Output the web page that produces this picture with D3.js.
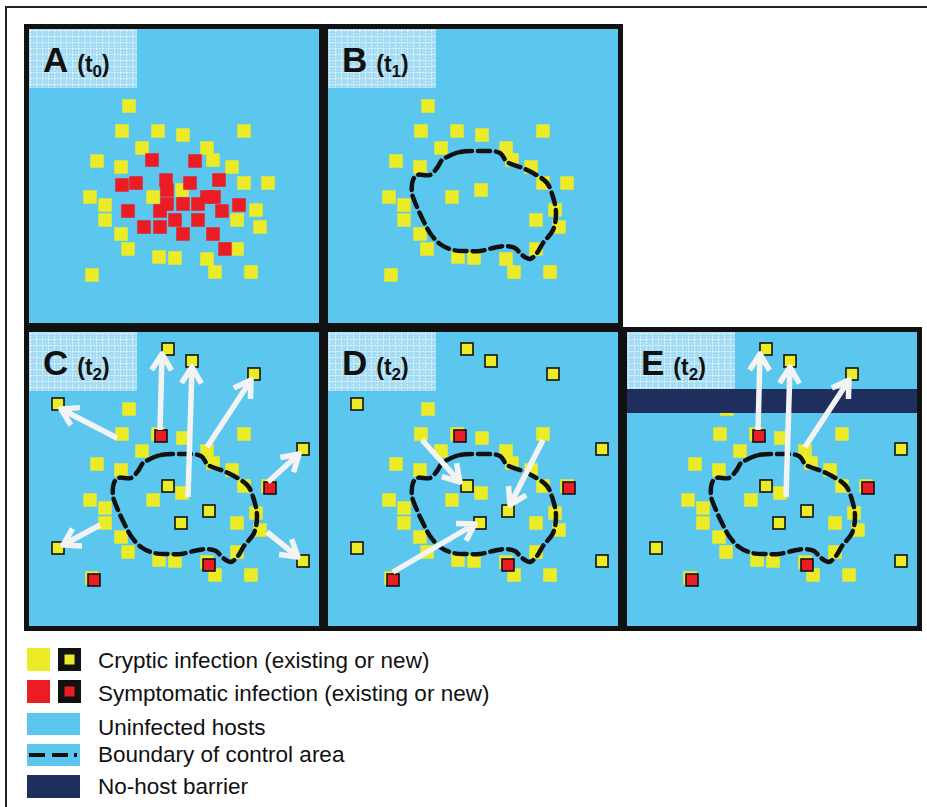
<!DOCTYPE html>
<html>
<head>
<meta charset="utf-8">
<script src="https://cdn.jsdelivr.net/npm/d3@7"></script>
<style>
  body { margin: 0; background: #fff; }
  text { font-family: "Liberation Sans", Arial, sans-serif; }
</style>
</head>
<body>
<div id="chart"></div>
<script>
// field coordinates inside one panel (0..300)
const cryptic = [
  [105,82],[98,107],[134,107],[159,111],[220,107],[118,124],[183,124],[73,137],
  [97,143],[189,136],[208,143],[220,159],[244,159],[66,173],[81,181],[129,173],
  [158,166],[81,196],[232,186],[213,196],[236,203],[97,210],[104,225],[135,233],
  [151,234],[183,235],[213,225],[191,248],[227,248],[68,251]
];
const symptomatic = [
  [128,136],[171,137],[98,161],[112,159],[142,156],[143,166],[166,159],[195,156],
  [143,180],[159,180],[174,180],[183,173],[190,173],[215,181],[104,187],[136,187],
  [198,187],[151,196],[174,196],[120,203],[136,203],[159,210],[189,210],[201,225]
];
const newCryptic = [
  [144,22],[168,34],[230,47],[34,77],[279,122],[144,159],[185,184],[157,196],
  [34,221],[279,234]
];
const newSymptomatic = [[137,109],[246,161],[185,238],[70,253]];
const boundary = [
  [124,133],[137,128],[157,127],[177,129],[184,138],[197,143],[210,149],[224,159],
  [230,173],[233,189],[230,206],[220,219],[214,229],[207,235],[199,231],[192,224],
  [182,222],[170,224],[157,227],[144,227],[130,226],[117,220],[107,209],[100,196],
  [94,183],[89,169],[90,156],[94,151],[107,151],[114,144],[119,136]
];
const arrowsC = [
  [[136,103],[138,27]], [[164,170],[168,40]], [[183,120],[227,53]],
  [[93,111],[37,82]], [[244,155],[275,127]], [[76,198],[39,218]], [[243,205],[274,230]]
];
const arrowsD = [[[99,113],[137,155]], [[220,113],[187,178]], [[70,245],[152,197]]];
const arrowsE = [[[136,103],[138,27]], [[164,170],[168,40]], [[183,120],[227,53]]];
const barrierY = [62, 86];

const panels = [
  {id: "A", t: "0", x: 24,  y: 24,  base: true, red: true},
  {id: "B", t: "1", x: 323, y: 24,  base: true, bound: true},
  {id: "C", t: "2", x: 24,  y: 327, base: true, bound: true, fresh: true, arrows: arrowsC},
  {id: "D", t: "2", x: 323, y: 327, base: true, bound: true, fresh: true, arrows: arrowsD},
  {id: "E", t: "2", x: 622, y: 327, base: true, bound: true, fresh: true, arrows: arrowsE, barrier: true}
];

const legendLabels = [
  "Cryptic infection (existing or new)",
  "Symptomatic infection (existing or new)",
  "Uninfected hosts",
  "Boundary of control area",
  "No-host barrier"
];

const BLUE = "#5bc7ef", YEL = "#ebeb28", RED = "#ec1c24", NAVY = "#1e2f5e";
const PW = 300, PH = 304;

const svg = d3.select("#chart").append("svg").attr("width", 927).attr("height", 807);
const defs = svg.append("defs");
const pat = defs.append("pattern").attr("id", "grid").attr("width", 6).attr("height", 6)
  .attr("patternUnits", "userSpaceOnUse");
pat.append("rect").attr("width", 6).attr("height", 6).attr("fill", "#a6dcf4");
pat.append("path").attr("d", "M0,0.5H6M0.5,0V6").attr("stroke", "#fff")
  .attr("stroke-opacity", 0.6).attr("stroke-width", 1).attr("stroke-dasharray", "2 1");
defs.append("clipPath").attr("id", "inner").append("rect")
  .attr("x", 5).attr("y", 5).attr("width", PW - 10).attr("height", PH - 10);

// outer frame (only top/left are visible)
svg.append("rect").attr("x", 6).attr("y", 7).attr("width", 960).attr("height", 860)
  .attr("fill", "none").attr("stroke", "#222").attr("stroke-width", 2);

const x = d3.scaleLinear().domain([0, 300]).range([0, PW]);
const y = d3.scaleLinear().domain([0, 300]).range([0, PH - 4]);
const line = d3.line().x(d => x(d[0])).y(d => y(d[1])).curve(d3.curveCatmullRomClosed);

function squares(g, data, fill, size, outlined) {
  g.selectAll(null).data(data).enter().append("rect")
    .attr("x", d => x(d[0]) - size / 2).attr("y", d => y(d[1]) - size / 2)
    .attr("width", size).attr("height", size)
    .attr("fill", fill)
    .attr("stroke", outlined ? "#111" : "none").attr("stroke-width", 1.6);
}

function arrows(g, data) {
  data.forEach(a => {
    const x0 = x(a[0][0]), y0 = y(a[0][1]), x1 = x(a[1][0]), y1 = y(a[1][1]);
    const ang = Math.atan2(y1 - y0, x1 - x0), L = 19, sp = 0.55;
    g.append("path")
      .attr("d", `M${x0},${y0}L${x1},${y1}` +
        `M${x1 - L * Math.cos(ang - sp)},${y1 - L * Math.sin(ang - sp)}L${x1},${y1}` +
        `L${x1 - L * Math.cos(ang + sp)},${y1 - L * Math.sin(ang + sp)}`)
      .attr("fill", "none").attr("stroke", "#f3f3f3").attr("stroke-width", 5.5)
      .attr("stroke-linejoin", "round");
  });
}

panels.forEach(p => {
  const g = svg.append("g").attr("transform", `translate(${p.x},${p.y})`);
  const c = g.append("g").attr("clip-path", "url(#inner)");
  c.append("rect").attr("width", PW).attr("height", PH).attr("fill", BLUE);
  c.append("rect").attr("x", 5).attr("y", 5).attr("width", 108).attr("height", 59)
    .attr("fill", "url(#grid)");
  if (p.base) squares(c, cryptic, YEL, 13.5, false);
  if (p.red) squares(c, symptomatic, RED, 13.5, false);
  if (p.fresh) {
    squares(c, newCryptic, YEL, 12, true);
    squares(c, newSymptomatic, RED, 12, true);
  }
  if (p.barrier) {
    c.append("rect").attr("x", 0).attr("y", y(barrierY[0])).attr("width", PW)
      .attr("height", y(barrierY[1]) - y(barrierY[0])).attr("fill", NAVY);
  }
  if (p.bound) {
    c.append("path").attr("d", line(boundary)).attr("fill", "none")
      .attr("stroke", "#111").attr("stroke-width", 4.5)
      .attr("stroke-dasharray", "12 6").attr("stroke-linecap", "round");
  }
  if (p.arrows) arrows(c, p.arrows);
  const lab = g.append("text").attr("x", 19).attr("y", 48).attr("font-weight", "bold").attr("fill", "#111");
  lab.append("tspan").attr("font-size", 35).text(p.id);
  lab.append("tspan").attr("font-size", 23).attr("dx", 9).text("(t");
  lab.append("tspan").attr("font-size", 17).attr("dy", 5).text(p.t);
  lab.append("tspan").attr("font-size", 23).attr("dy", -5).text(")");
  g.append("rect").attr("x", 2.5).attr("y", 2.5).attr("width", PW - 5).attr("height", PH - 5)
    .attr("fill", "none").attr("stroke", "#111").attr("stroke-width", 5);
});

// legend
const lg = svg.append("g");
const rowY = [659, 691, 724, 755, 787];
const baseY = [668, 701, 735, 762, 794];
lg.append("rect").attr("x", 27).attr("y", rowY[0] - 11).attr("width", 23).attr("height", 23).attr("fill", YEL);
lg.append("rect").attr("x", 58).attr("y", rowY[0] - 11).attr("width", 23).attr("height", 23).attr("fill", "#111");
lg.append("rect").attr("x", 64.5).attr("y", rowY[0] - 4.5).attr("width", 10).attr("height", 10).attr("fill", YEL);
lg.append("rect").attr("x", 27).attr("y", rowY[1] - 11).attr("width", 23).attr("height", 23).attr("fill", RED);
lg.append("rect").attr("x", 58).attr("y", rowY[1] - 11).attr("width", 23).attr("height", 23).attr("fill", "#111");
lg.append("rect").attr("x", 64.5).attr("y", rowY[1] - 4.5).attr("width", 10).attr("height", 10).attr("fill", RED);
lg.append("rect").attr("x", 27).attr("y", rowY[2] - 11).attr("width", 53).attr("height", 22).attr("fill", BLUE);
lg.append("rect").attr("x", 27).attr("y", rowY[3] - 11).attr("width", 53).attr("height", 22).attr("fill", BLUE);
lg.append("path").attr("d", `M29,${rowY[3]}H45M52,${rowY[3]}H68M74,${rowY[3]}H77`)
  .attr("stroke", "#111").attr("stroke-width", 4);
lg.append("rect").attr("x", 27).attr("y", rowY[4] - 12).attr("width", 53).attr("height", 23).attr("fill", NAVY);
lg.selectAll("text.lab").data(legendLabels).enter().append("text").attr("class", "lab")
  .attr("x", 98).attr("y", (d, i) => baseY[i])
  .attr("font-size", 22.5).attr("fill", "#111").text(d => d);
</script>
</body>
</html>
